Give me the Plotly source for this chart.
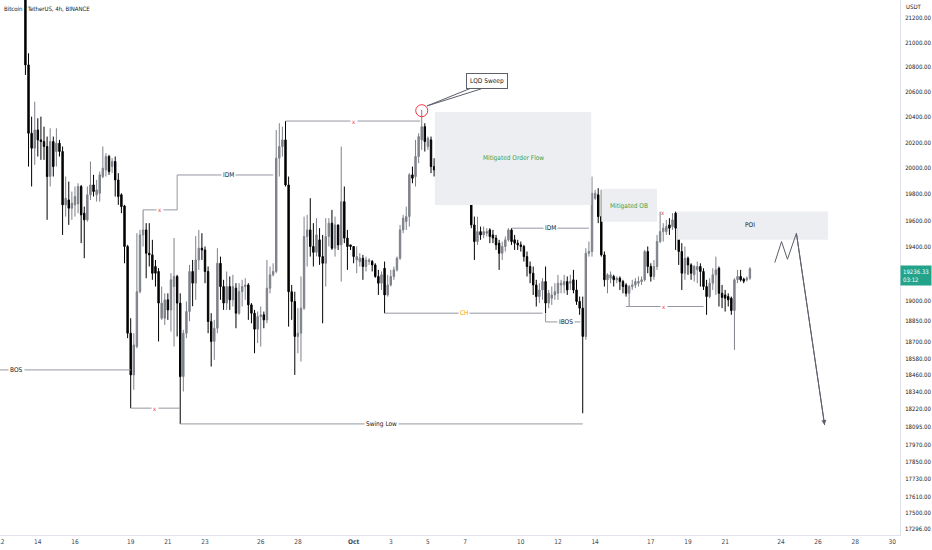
import numpy as np
import pandas as pd
import plotly.graph_objects as go

FONT = "Liberation Sans Narrow, DejaVu Sans Condensed, Roboto, sans-serif"

# BTCUSDT 4h bars, first visible bar opens 2022-09-13 08:00 (earlier ones sit above the price scale)
first_bar = "2022-09-13 08:00"
opens = [21850, 20818, 20274, 20157, 20300, 20222, 20209, 20170, 19937, 20209,
         20131, 20196, 20131, 19719, 19757, 19694, 19719, 19727, 19860, 19656,
         19605, 19796, 19872, 19796, 19808, 19937, 19988, 20092, 20014, 20053,
         19911, 19796, 19711, 19404, 18763, 18462, 18666, 19067, 19491, 19529,
         19353, 19341, 19254, 19217, 18872, 18872, 19007, 18933, 19105, 19180,
         18983, 18450, 18763, 18921, 19217, 19130, 19303, 19391, 19378, 19217,
         18848, 18703, 18799, 19278, 19105, 18983, 19105, 19007, 19093, 18909,
         19067, 19105, 19117, 18970, 18909, 18792, 18884, 18897, 18860, 19093,
         19192, 19217, 20079, 20170, 20222, 19872, 19067, 18995, 18739, 18763,
         18946, 19479, 19529, 19404, 19360, 19454, 19328, 19278, 19479, 19580,
         19391, 19567, 19416, 19744, 19467, 19416, 19404, 19303, 19291, 19316,
         19254, 19291, 19291, 19266, 19180, 19130, 19241, 19043, 19117, 19180,
         19229, 19316, 19529, 19592, 19630, 19950, 19937, 20092, 20222, 20326,
         20170, 20222, 20014, 19988, 20144, 20157, 20353, 20235, 20248, 19950,
         19988, 19937, 19988, 19911, 20066, 19567, 19441, 19516, 19491, 19504,
         19529, 19491, 19467, 19429, 19353, 19404, 19454, 19529, 19454, 19429,
         19416, 19404, 19328, 19254, 19204, 19117, 19031, 19080, 19142, 18983,
         19019, 19043, 19055, 19117, 19117, 19142, 19130, 19155, 19080, 18995,
         18946, 18739, 19353, 19366, 19770, 19796, 19630, 19341, 19155, 19167,
         19180, 19155, 19167, 19142, 19117, 19055, 19105, 19117, 19130, 19142,
         19155, 19366, 19254, 19180, 19254, 19441, 19516, 19516, 19567, 19554,
         19656, 19542, 19366, 19204, 19316, 19266, 19192, 19229, 19254, 19217,
         19105, 19031, 19130, 19192, 19241, 19055, 19043, 19031, 19019, 18928,
         19155, 19180, 19160, 19155, 19167]
highs = [21950, 20912, 20405, 20524, 20392, 20405, 20326, 20248, 20313, 20248,
         20313, 20222, 20170, 19937, 19898, 19821, 19860, 19885, 19872, 19706,
         19860, 20053, 19950, 19911, 19975, 20170, 20118, 20105, 20079, 20092,
         19963, 19808, 19719, 19416, 18872, 18763, 19504, 19529, 19681, 19580,
         19580, 19454, 19303, 19242, 19105, 19055, 19055, 19204, 19467, 19192,
         19055, 18787, 18995, 19266, 19303, 19482, 19529, 19504, 19404, 19254,
         18909, 18860, 19391, 19328, 19155, 19217, 19180, 19192, 19130, 19130,
         19155, 19167, 19130, 18983, 18933, 18921, 18958, 18921, 19303, 19254,
         19278, 20300, 20353, 20326, 20370, 19937, 19117, 19067, 18946, 19180,
         19630, 19643, 19770, 19580, 19618, 19542, 19491, 19618, 19618, 19681,
         19630, 19567, 20170, 19860, 19529, 19416, 19404, 19404, 19353, 19341,
         19328, 19316, 19303, 19278, 19229, 19217, 19291, 19192, 19229, 19254,
         19328, 19567, 19643, 19706, 19963, 20014, 20222, 20274, 20458, 20353,
         20248, 20248, 20079, 20170, 20274, 20366, 20405, 20274, 20314, 20053,
         20040, 20014, 20027, 20014, 20079, 19630, 19630, 19554, 19554, 19542,
         19542, 19529, 19491, 19454, 19441, 19479, 19542, 19542, 19491, 19454,
         19441, 19416, 19366, 19291, 19254, 19155, 19130, 19167, 19254, 19080,
         19105, 19130, 19192, 19155, 19192, 19180, 19192, 19229, 19155, 19031,
         19031, 19391, 19441, 19937, 19834, 19847, 19834, 19366, 19204, 19217,
         19192, 19180, 19180, 19155, 19130, 19117, 19155, 19167, 19180, 19180,
         19378, 19404, 19278, 19303, 19491, 19668, 19580, 19605, 19618, 19656,
         19668, 19554, 19429, 19404, 19328, 19278, 19266, 19291, 19278, 19241,
         19155, 19167, 19241, 19328, 19254, 19117, 19080, 19055, 19031, 19167,
         19229, 19229, 19170, 19180, 19250]
lows = [20737, 20014, 19860, 20027, 20092, 20066, 20066, 19605, 19860, 19937,
        20014, 20092, 19491, 19630, 19567, 19605, 19630, 19656, 19429, 19316,
        19592, 19757, 19783, 19744, 19744, 19924, 19937, 19950, 19963, 19783,
        19719, 19656, 19278, 18727, 18226, 18356, 18654, 19055, 19404, 19167,
        19254, 19155, 19105, 18703, 18860, 18823, 18860, 18775, 18666, 18739,
        18115, 18344, 18727, 18850, 18960, 19007, 19229, 19303, 19130, 18763,
        18522, 18570, 18763, 19007, 18933, 18933, 18933, 18958, 18799, 18897,
        18958, 19007, 18860, 18835, 18618, 18691, 18666, 18799, 18835, 19055,
        19180, 19204, 19937, 20092, 19860, 18811, 18860, 18462, 18618, 18558,
        18933, 19254, 19328, 19254, 19330, 19266, 18835, 19105, 19404, 19378,
        19328, 19378, 19142, 19429, 19229, 19378, 19278, 19204, 19254, 19155,
        19217, 19266, 19217, 19170, 19043, 19080, 18909, 19031, 19105, 19155,
        19217, 19303, 19504, 19529, 19554, 19885, 19860, 20040, 20144, 20131,
        20144, 19963, 19937, 19719, 20014, 20066, 20157, 20196, 19872, 19911,
        19872, 19821, 19821, 19821, 19542, 19303, 19416, 19454, 19467, 19479,
        19429, 19429, 19378, 19229, 19303, 19366, 19441, 19416, 19378, 19378,
        19366, 19291, 19180, 19130, 19043, 18958, 18983, 19007, 18909, 18946,
        18970, 19007, 19007, 19055, 19055, 19043, 19080, 19055, 18970, 18897,
        18190, 18715, 19328, 19328, 19757, 19580, 19328, 19105, 19055, 19130,
        19105, 19130, 19080, 19055, 19031, 18958, 19080, 19093, 19105, 19117,
        19142, 19204, 19142, 19155, 19229, 19429, 19441, 19491, 19491, 19529,
        19378, 19266, 19080, 19155, 19192, 19155, 19142, 19130, 19105, 19080,
        18897, 19019, 19080, 19043, 18958, 18946, 18921, 18958, 18897, 18642,
        19130, 19142, 19130, 19142, 19155]
closes = [20818, 20274, 20157, 20300, 20222, 20209, 20170, 19937, 20209, 20014,
          20196, 20131, 19719, 19770, 19694, 19732, 19783, 19860, 19643, 19605,
          19796, 19872, 19821, 19834, 19950, 20001, 20092, 19975, 20053, 19911,
          19783, 19706, 19404, 18763, 18462, 18678, 19067, 19491, 19529, 19353,
          19341, 19204, 19204, 18983, 18983, 19007, 18933, 19155, 19180, 18983,
          18450, 18763, 18921, 19217, 19130, 19303, 19391, 19378, 19217, 18848,
          18703, 18799, 19278, 19105, 18983, 19105, 19007, 19105, 18909, 19067,
          19105, 19117, 18970, 18909, 18792, 18884, 18897, 18860, 19093, 19192,
          19217, 20079, 20170, 20222, 19872, 19067, 18995, 18739, 18763, 18946,
          19479, 19529, 19404, 19360, 19491, 19328, 19278, 19479, 19580, 19391,
          19567, 19416, 19744, 19467, 19404, 19404, 19328, 19328, 19316, 19254,
          19303, 19303, 19266, 19180, 19130, 19192, 19043, 19117, 19180, 19229,
          19316, 19529, 19618, 19630, 19950, 19924, 20092, 20248, 20326, 20209,
          20235, 20014, 19988, 20144, 20157, 20353, 20235, 20248, 20001, 20001,
          19950, 19963, 19911, 19988, 19567, 19441, 19516, 19491, 19516, 19516,
          19479, 19467, 19416, 19353, 19404, 19454, 19529, 19441, 19429, 19416,
          19404, 19328, 19254, 19204, 19117, 19031, 19080, 19142, 18983, 19055,
          19043, 19067, 19130, 19130, 19142, 19080, 19142, 19080, 18995, 18946,
          18739, 19353, 19366, 19808, 19808, 19630, 19341, 19155, 19192, 19192,
          19155, 19167, 19142, 19105, 19055, 19105, 19117, 19142, 19142, 19155,
          19366, 19254, 19180, 19254, 19441, 19516, 19542, 19554, 19542, 19605,
          19542, 19366, 19204, 19316, 19266, 19204, 19254, 19254, 19217, 19105,
          19031, 19130, 19192, 19229, 19055, 19025, 19019, 19007, 18928, 19155,
          19180, 19155, 19145, 19167, 19236.33]
times = pd.date_range(first_bar, periods=len(opens), freq="4h")

last_price = 19236.33
countdown = "03:12"

# price scale labels (log scale)
price_ticks = [21200, 21000, 20800, 20600, 20400, 20200, 20000, 19800, 19600, 19400,
               19000, 18850, 18700, 18580, 18460, 18340, 18220, 18095, 17970, 17850,
               17730, 17610, 17500]
bottom_label = "17296.00"
# time scale labels (the first one, "12", sits on the left edge)
edge_day = "2022-09-12"
edge_day_label = "12"
day_ticks = ["2022-09-14", "2022-09-16", "2022-09-19", "2022-09-21", "2022-09-23",
             "2022-09-26", "2022-09-28", "2022-10-01", "2022-10-03", "2022-10-05", "2022-10-07",
             "2022-10-10", "2022-10-12", "2022-10-14", "2022-10-17", "2022-10-19", "2022-10-21",
             "2022-10-24", "2022-10-26", "2022-10-28", "2022-10-30"]
day_labels = ["14", "16", "19", "21", "23", "26", "28", "<b>Oct</b>", "3", "5", "7",
              "10", "12", "14", "17", "19", "21", "24", "26", "28", "30"]

# horizontal drawings
level_labels = ["BOS", "x", "x", "IDM", "x", "Swing Low", "CH", "IBOS", "IDM", "x"]
level_prices = [18498, 18226, 19681, 19949, 20370, 18115, 18909, 18845, 19542, 18958]
level_starts = ["2022-09-10 00:00", "2022-09-19 00:00", "2022-09-19 16:00", "2022-09-21 12:00",
                "2022-09-27 08:00", "2022-09-21 16:00", "2022-10-02 16:00", "2022-10-11 08:00",
                "2022-10-09 12:00", "2022-10-15 16:00"]
level_ends = ["2022-09-19 00:00", "2022-09-21 16:00", "2022-09-21 12:00", "2022-09-26 16:00",
              "2022-10-04 14:00", "2022-10-13 08:00", "2022-10-11 04:00", "2022-10-13 05:00",
              "2022-10-13 16:00", "2022-10-19 20:00"]
level_label_at = ["2022-09-12 21:00", "2022-09-20 08:00", "2022-09-20 14:00", "2022-09-24 06:00",
                  "2022-10-01 00:00", "2022-10-02 12:00", "2022-10-06 22:00", "2022-10-12 10:00",
                  "2022-10-11 14:00", "2022-10-17 17:00"]
# vertical connectors
conn_times = ["2022-09-21 12:00", "2022-10-11 08:00"]
conn_from = [19681, 18909]
conn_to = [19949, 18845]
extra_x_time = "2022-10-17 16:00"
extra_x_price = 19658

# zones
box_labels = ["Mitigated Order Flow", "Mitigated OB", "POI"]
box_starts = ["2022-10-05 09:00", "2022-10-14 08:00", "2022-10-18 10:00"]
box_ends = ["2022-10-13 19:00", "2022-10-17 08:00", "2022-10-26 13:00"]
box_tops = [20442, 19842, 19668]
box_bottoms = [19719, 19590, 19454]
box_text_at = ["2022-10-09 15:00", "2022-10-15 20:00", "2022-10-22 08:00"]
box_text_price = [20082, 19711, 19567]

# liquidity sweep callout
sweep_time = "2022-10-04 16:00"
sweep_price = 20452
callout_time = "2022-10-08 04:40"
callout_price = 20689
tail_times = ["2022-10-07 11:30", "2022-10-04 23:00", "2022-10-07 20:30"]
tail_prices = [20641, 20490, 20625]

# projected path
proj_times = ["2022-10-23 16:10", "2022-10-24 00:50", "2022-10-24 08:30", "2022-10-24 20:05", "2022-10-26 08:30"]
proj_prices = [19283, 19441, 19308, 19504, 18107]

LINE = "#9598a1"
DARK = "#131722"
RED = "#f23645"

fig = go.Figure()

# zones first so they stay under the candles
for s, e, top, bot in zip(box_starts, box_ends, box_tops, box_bottoms):
    fig.add_trace(go.Scatter(x=[s, e, e, s, s], y=[bot, bot, top, top, bot], mode="lines",
                             fill="toself", fillcolor="#edeef1", line=dict(width=0),
                             hoverinfo="skip"))

fig.add_trace(go.Candlestick(
    x=times, open=opens, high=highs, low=lows, close=closes, whiskerwidth=0,
    increasing=dict(line=dict(color="#7e8189", width=1), fillcolor="#7e8189"),
    decreasing=dict(line=dict(color="#000000", width=1), fillcolor="#000000"),
    hoverinfo="skip"))

for s, e, p in zip(level_starts, level_ends, level_prices):
    fig.add_trace(go.Scatter(x=[s, e], y=[p, p], mode="lines", line=dict(color=LINE, width=1),
                             hoverinfo="skip"))
for t, a, b in zip(conn_times, conn_from, conn_to):
    fig.add_trace(go.Scatter(x=[t, t], y=[a, b], mode="lines", line=dict(color=LINE, width=1),
                             hoverinfo="skip"))

# callout tail + circle
fig.add_trace(go.Scatter(x=tail_times, y=tail_prices, mode="lines", fill="toself", fillcolor="white",
                         line=dict(color="#5d606b", width=1), hoverinfo="skip"))
fig.add_trace(go.Scatter(x=[sweep_time], y=[sweep_price], mode="markers",
                         marker=dict(symbol="circle-open", size=12, color=RED, line=dict(width=1)),
                         hoverinfo="skip"))
fig.add_trace(go.Scatter(x=proj_times, y=proj_prices, mode="lines",
                         line=dict(color="#5d606b", width=1), hoverinfo="skip"))

ann = []
for lab, t, p in zip(level_labels, level_label_at, level_prices):
    col = RED if lab == "x" else ("#ff9800" if lab == "CH" else DARK)
    ann.append(dict(x=t, y=np.log10(p), text=lab, showarrow=False, bgcolor="white", borderpad=1,
                    font=dict(size=6.5 if lab != "x" else 6, color=col)))
ann.append(dict(x=extra_x_time, y=np.log10(extra_x_price), text="x", showarrow=False,
                font=dict(size=6, color=RED)))
for lab, t, p in zip(box_labels, box_text_at, box_text_price):
    ann.append(dict(x=t, y=np.log10(p), text=lab, showarrow=False,
                    font=dict(size=6.5, color=DARK if lab == "POI" else "#43a047")))
ann.append(dict(x=callout_time, y=np.log10(callout_price), text="LQD Sweep", showarrow=False,
                bgcolor="white", bordercolor="#5d606b", borderwidth=1, borderpad=3,
                font=dict(size=6.5, color=DARK)))
# arrow head on the projection
ann.append(dict(x=proj_times[-1], y=np.log10(proj_prices[-1]), ax=proj_times[-2],
                ay=np.log10(proj_prices[-2]), axref="x", ayref="y", xref="x", yref="y", text="",
                showarrow=True, arrowhead=2, arrowsize=1, arrowwidth=1, arrowcolor="#5d606b"))
# edge date label
ann.append(dict(x=edge_day, y=0, xref="x", yref="paper", yanchor="top", yshift=-1,
                text=edge_day_label, showarrow=False, font=dict(size=6.5, color="#434651")))
# price scale extras
ann.append(dict(x=1, y=np.log10(last_price), xref="paper", yref="y", xanchor="left", yanchor="top",
                yshift=4, text=f"{last_price:.2f}<br>{countdown}", showarrow=False, align="left",
                bgcolor="#22a38a", borderpad=2, font=dict(size=6, color="white")))
ann.append(dict(x=1, y=1, xref="paper", yref="paper", xanchor="left", yanchor="top", xshift=4,
                yshift=-1, text="USDT", showarrow=False, font=dict(size=6, color=DARK)))
ann.append(dict(x=1, y=0, xref="paper", yref="paper", xanchor="left", yanchor="bottom", xshift=3,
                yshift=1, text=bottom_label, showarrow=False, font=dict(size=6, color=DARK)))
ann.append(dict(x=0, y=1, xref="paper", yref="paper", xanchor="left", yanchor="top", xshift=2,
                yshift=-3, text="Bitcoin / TetherUS, 4h, BINANCE", showarrow=False,
                font=dict(size=6, color=DARK)))

fig.update_layout(
    width=932, height=550, margin=dict(l=0, r=28, t=0, b=15),
    plot_bgcolor="white", paper_bgcolor="white", showlegend=False, boxgap=0.35,
    font=dict(family=FONT, size=6.5, color=DARK), annotations=ann,
    xaxis=dict(type="date", range=["2022-09-11 23:09", "2022-10-30 09:54"], tickvals=day_ticks,
               ticktext=day_labels, showgrid=False, zeroline=False, showline=True,
               linecolor="#e0e3eb", ticks="", rangeslider=dict(visible=False),
               tickfont=dict(size=6.5, color="#434651")),
    yaxis=dict(type="log", side="right", range=[np.log10(17352), np.log10(21348)],
               tickvals=price_ticks, ticktext=[f"{v:.2f}" for v in price_ticks], showgrid=False,
               zeroline=False, showline=True, linecolor="#e0e3eb", ticks="",
               ticklabelstandoff=3, tickfont=dict(size=6, color=DARK)),
)

# page body has a default 8px margin; drop it so the figure sits at the window corner
fig.write_html("out.html", config={"displayModeBar": False},
               post_script="document.body.style.margin='0';")
